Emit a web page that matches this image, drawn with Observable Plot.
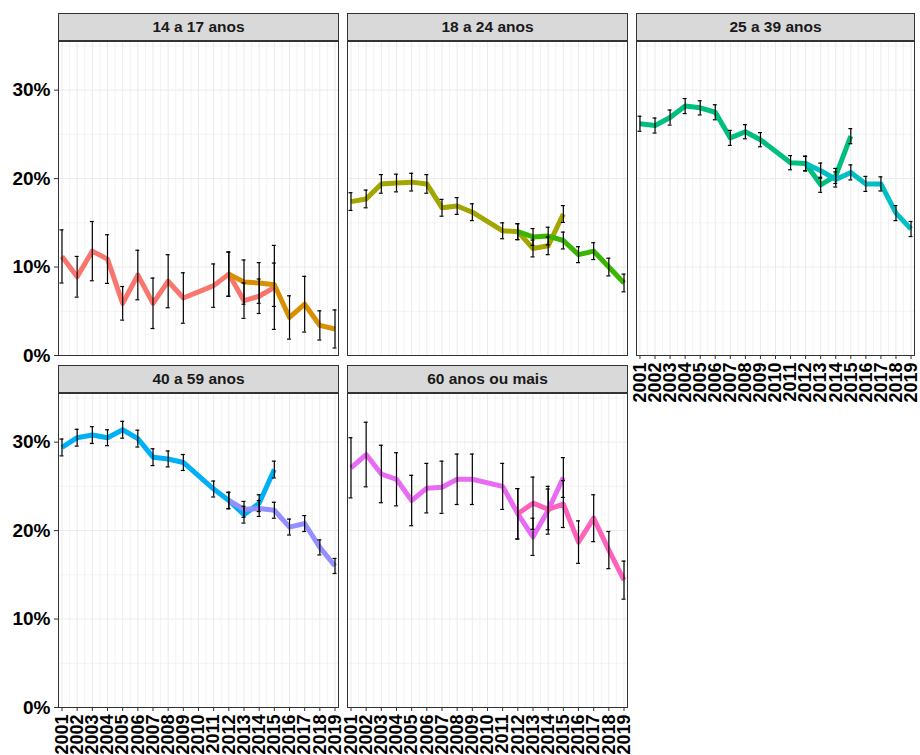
<!DOCTYPE html>
<html>
<head>
<meta charset="utf-8">
<script src="https://cdn.jsdelivr.net/npm/d3@7"></script>
<script src="https://cdn.jsdelivr.net/npm/@observablehq/plot@0.6"></script>
<style>
  body { margin: 0; background: #fff; }
  #chart { position: relative; width: 920px; height: 755px; overflow: hidden; background: #fff;
           font-family: "Liberation Sans", Arial, sans-serif; }
  .strip { position: absolute; box-sizing: border-box; height: 28px; background: #D9D9D9;
           border: 1px solid #333; display: flex; align-items: center; justify-content: center;
           font-weight: bold; font-size: 15.5px; color: #1A1A1A; }
  .panel { position: absolute; }
</style>
</head>
<body>
<div id="chart"></div>
<script>
// ---- categories & ticks ----
const groups = ["14 a 17 anos", "18 a 24 anos", "25 a 39 anos", "40 a 59 anos", "60 anos ou mais"];
const years = [2001,2002,2003,2004,2005,2006,2007,2008,2009,2010,2011,2012,2013,2014,2015,2016,2017,2018,2019];
const pnadYears = [2001,2002,2003,2004,2005,2006,2007,2008,2009,2011,2012,2013,2014,2015];
const pnadcYears = [2012,2013,2014,2015,2016,2017,2018,2019];
const yTicks = [0, 10, 20, 30];
const yMinor = [5, 15, 25, 35];

// ---- series values (%) and error half-widths ----
const pnad_14_17     = [11.2, 8.9, 11.8, 10.9, 5.9, 9.1, 5.9, 8.4, 6.5, 7.9, 9.2, 6.2, 6.7, 7.7];
const pnad_14_17_err = [3.0, 2.3, 3.35, 2.75, 1.9, 2.8, 2.85, 3.0, 2.85, 2.45, 2.5, 2.0, 1.95, 4.75];
const pnadc_14_17     = [9.2, 8.3, 8.2, 8.0, 4.3, 5.8, 3.4, 3.0];
const pnadc_14_17_err = [2.5, 2.5, 2.3, 2.45, 2.45, 3.15, 1.65, 2.15];

const pnad_18_24     = [17.4, 17.7, 19.4, 19.5, 19.6, 19.4, 16.7, 16.9, 16.2, 14.1, 14.0, 12.1, 12.4, 16.0];
const pnad_18_24_err = [1.0, 1.0, 1.05, 1.0, 1.0, 1.05, 0.95, 0.95, 0.95, 0.9, 0.9, 0.95, 1.0, 0.95];
const pnadc_18_24     = [14.0, 13.4, 13.5, 13.0, 11.4, 11.8, 10.0, 8.2];
const pnadc_18_24_err = [0.9, 0.95, 1.0, 0.95, 0.9, 0.95, 1.0, 1.0];

const pnad_25_39     = [26.2, 26.0, 26.9, 28.2, 28.0, 27.5, 24.6, 25.3, 24.4, 21.8, 21.7, 19.3, 20.3, 24.8];
const pnad_25_39_err = [0.85, 0.85, 0.85, 0.85, 0.8, 0.85, 0.85, 0.8, 0.8, 0.8, 0.8, 0.85, 0.85, 0.85];
const pnadc_25_39     = [21.7, 20.9, 19.9, 20.7, 19.4, 19.4, 16.1, 14.3];
const pnadc_25_39_err = [0.85, 0.85, 0.85, 0.85, 0.85, 0.8, 0.85, 0.85];

const pnad_40_59     = [29.4, 30.5, 30.8, 30.5, 31.4, 30.4, 28.3, 28.1, 27.7, 24.7, 23.4, 21.8, 23.1, 26.9];
const pnad_40_59_err = [0.95, 0.95, 0.95, 0.9, 0.95, 0.95, 0.95, 0.9, 0.9, 0.9, 0.95, 0.95, 0.95, 0.95];
const pnadc_40_59     = [23.4, 22.4, 22.5, 22.3, 20.4, 20.8, 18.1, 16.0];
const pnadc_40_59_err = [0.9, 0.9, 0.9, 0.9, 0.9, 0.9, 0.85, 0.85];

const pnad_60     = [27.1, 28.6, 26.4, 25.8, 23.4, 24.8, 24.9, 25.8, 25.8, 25.0, 21.9, 19.3, 22.3, 26.0];
const pnad_60_err = [3.4, 3.65, 3.25, 3.0, 2.85, 2.8, 2.95, 2.85, 2.85, 2.6, 2.85, 2.1, 2.7, 2.25];
const pnadc_60     = [21.9, 23.1, 22.4, 23.0, 18.7, 21.4, 17.8, 14.4];
const pnadc_60_err = [2.85, 2.95, 2.3, 2.65, 2.4, 2.65, 2.1, 2.15];

// ---- palette (ggplot hue, 10 levels) ----
const pnadColors  = ["#F8766D", "#A3A500", "#00BF7D", "#00B0F6", "#E76BF3"];
const pnadcColors = ["#D89000", "#39B600", "#00BFC4", "#9590FF", "#FF62BC"];

const pnadValues  = [pnad_14_17, pnad_18_24, pnad_25_39, pnad_40_59, pnad_60];
const pnadErrors  = [pnad_14_17_err, pnad_18_24_err, pnad_25_39_err, pnad_40_59_err, pnad_60_err];
const pnadcValues = [pnadc_14_17, pnadc_18_24, pnadc_25_39, pnadc_40_59, pnadc_60];
const pnadcErrors = [pnadc_14_17_err, pnadc_18_24_err, pnadc_25_39_err, pnadc_40_59_err, pnadc_60_err];

const xMinor = years.slice(0, -1).map(y => y + 0.5);

// panel layout: left, top, width of plotting area
const layout = [
  {L: 58,  T: 41,  W: 280, showY: true,  showX: false},
  {L: 347, T: 41,  W: 280, showY: false, showX: false},
  {L: 636, T: 41,  W: 278, showY: false, showX: true},
  {L: 58,  T: 393, W: 280, showY: true,  showX: true},
  {L: 347, T: 393, W: 280, showY: false, showX: true}
];
const H = 314;
const chart = document.getElementById("chart");

groups.forEach((g, i) => {
  const {L, T, W, showY, showX} = layout[i];
  const a = pnadYears.map((yr, j) => ({year: yr, value: pnadValues[i][j], err: pnadErrors[i][j]}));
  const b = pnadcYears.map((yr, j) => ({year: yr, value: pnadcValues[i][j], err: pnadcErrors[i][j]}));
  const all = a.concat(b);
  const ml = showY ? 58 : 2, mr = 3, mt = 2, mb = showX ? 50 : 2;
  const cap = 0.13;
  const marks = [
    Plot.ruleX(xMinor, {stroke: "#EBEBEB", strokeWidth: 0.6}),
    Plot.ruleX(years, {stroke: "#EBEBEB", strokeWidth: 1}),
    Plot.ruleY(yMinor, {stroke: "#EBEBEB", strokeWidth: 0.6}),
    Plot.ruleY(yTicks, {stroke: "#EBEBEB", strokeWidth: 1}),
    Plot.line(a, {x: "year", y: "value", stroke: pnadColors[i], strokeWidth: 5, strokeLinejoin: "round", strokeLinecap: "butt"}),
    Plot.line(b, {x: "year", y: "value", stroke: pnadcColors[i], strokeWidth: 5, strokeLinejoin: "round", strokeLinecap: "butt"}),
    Plot.ruleX(all, {x: "year", y1: d => d.value - d.err, y2: d => d.value + d.err, stroke: "#000", strokeWidth: 1.2}),
    Plot.ruleY(all, {y: d => d.value + d.err, x1: d => d.year - cap, x2: d => d.year + cap, stroke: "#000", strokeWidth: 1.2}),
    Plot.ruleY(all, {y: d => d.value - d.err, x1: d => d.year - cap, x2: d => d.year + cap, stroke: "#000", strokeWidth: 1.2}),
    Plot.frame({stroke: "#333", strokeWidth: 1})
  ];
  if (showY) marks.push(Plot.axisY({ticks: yTicks, tickFormat: d => d + "%", tickSize: 4, tickPadding: 4,
      stroke: "#333", fill: "#000", fontSize: 19, fontWeight: "bold", label: null}));
  if (showX) marks.push(Plot.axisX({ticks: years, tickFormat: d => String(d), tickRotate: -90, tickSize: 4, tickPadding: 3,
      stroke: "#333", fill: "#000", fontSize: 18, fontWeight: "bold", label: null}));
  const svg = Plot.plot({
    width: W + ml + mr, height: H + mt + mb,
    marginLeft: ml, marginRight: mr, marginTop: mt, marginBottom: mb,
    style: {background: "transparent", overflow: "visible", fontFamily: "Liberation Sans, Arial, sans-serif", fontWeight: "bold"},
    x: {domain: [2000.77, 2019.23], axis: null},
    y: {domain: [0, 35.5], axis: null},
    marks
  });
  svg.classList.add("panel");
  svg.style.left = (L - ml) + "px";
  svg.style.top = (T - mt) + "px";
  chart.appendChild(svg);

  const strip = document.createElement("div");
  strip.className = "strip";
  strip.textContent = g;
  strip.style.left = L + "px";
  strip.style.top = (T - 28) + "px";
  strip.style.width = (W + 1) + "px";
  chart.appendChild(strip);
});
</script>
</body>
</html>
